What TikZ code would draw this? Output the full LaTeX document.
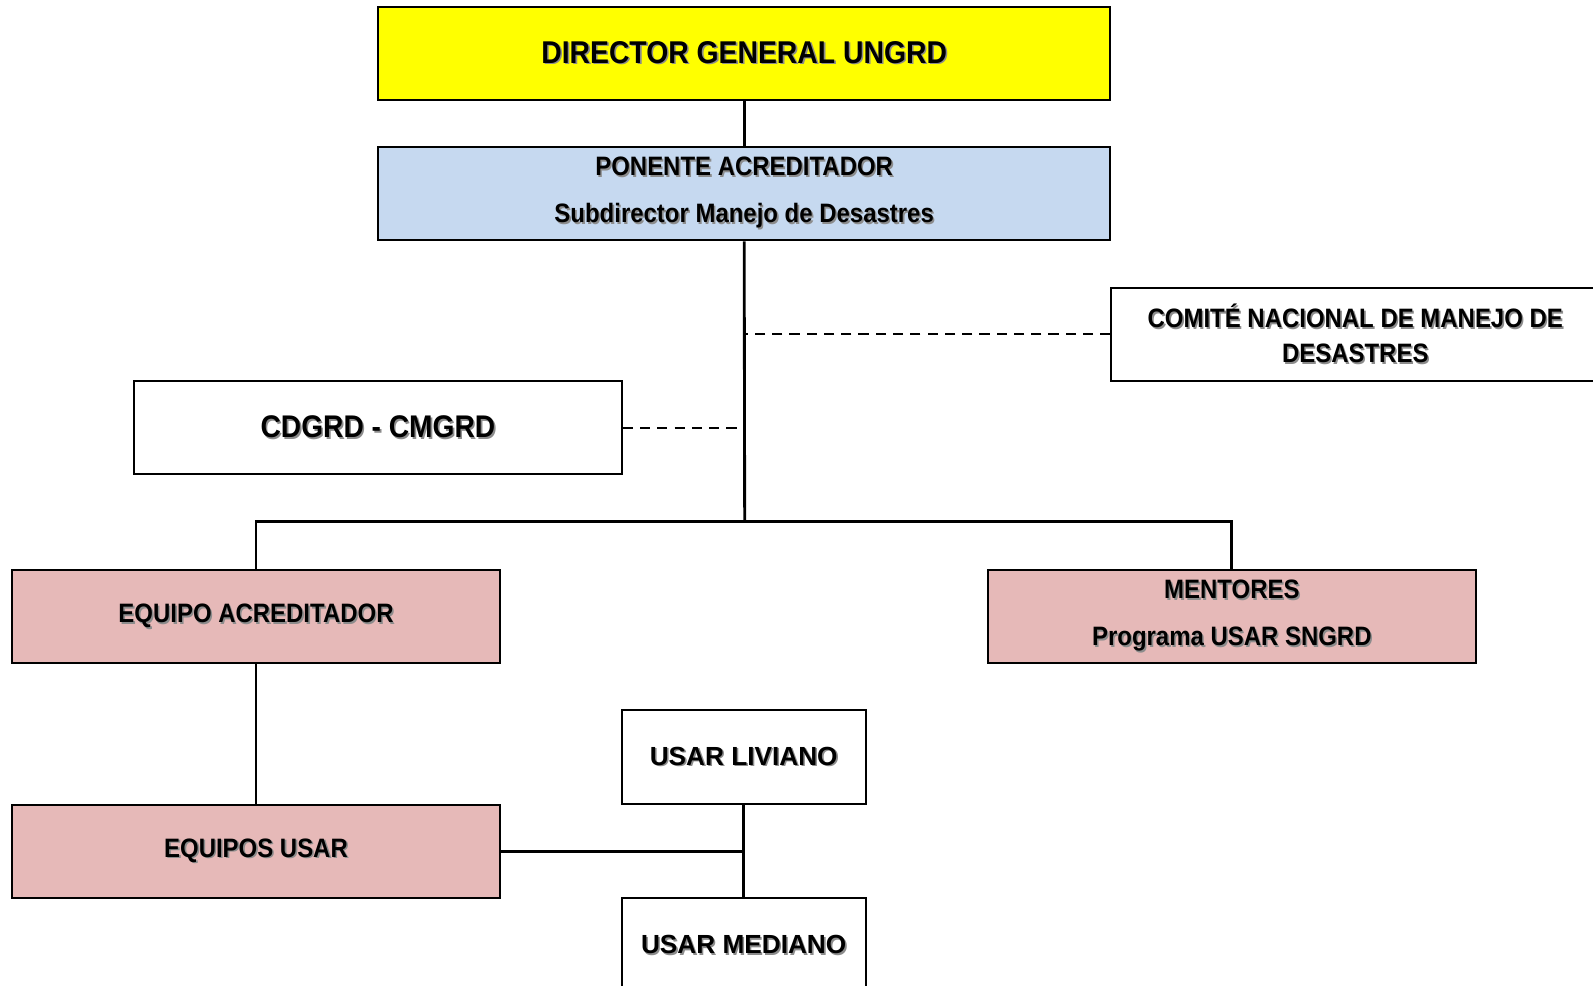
\documentclass[tikz,border=0pt]{standalone}
\usepackage{fontspec}
\setmainfont{Liberation Sans}
\newfontfamily\narrowfont[FakeStretch=0.9]{Liberation Sans}
\usetikzlibrary{positioning}
\usetikzlibrary{calc}
\definecolor{dirfill}{HTML}{FFFF00}
\definecolor{ponfill}{HTML}{C6D9F0}
\definecolor{eqfill}{HTML}{E6B9B8}
\newcommand{\shd}[1]{\makebox[0pt][l]{\hspace{0.8pt}\raisebox{-0.8pt}{\textcolor{black!45}{#1}}}#1}
\tikzset{orgbox/.style={draw, line width=1pt, minimum width=240pt, minimum height=46pt, inner sep=0pt, align=center,
  font=\narrowfont\bfseries\fontsize{13.1}{23}\selectfont}}
\tikzset{bigbox/.style={orgbox, minimum width=360.5pt, font=\narrowfont\bfseries\fontsize{15.5}{18}\selectfont}}
\tikzset{usarbox/.style={orgbox, minimum width=120pt, font=\bfseries\fontsize{12.9}{15}\selectfont}}
\tikzset{conn/.style={line width=1.4pt}}
\tikzset{dashconn/.style={line width=1pt, dash pattern=on 5pt off 3.5pt}}

\begin{document}
\begin{tikzpicture}[x=0.5pt, y=-0.5pt]
        \useasboundingbox (0,0) rectangle (1568,970);
        \clip (0,0) rectangle (1568,970);

        \node[bigbox, fill=dirfill] (dir) at (732.5, 52.5) {\shd{DIRECTOR GENERAL UNGRD}};
        \node[bigbox, fill=ponfill, font=\narrowfont\bfseries\fontsize{13.1}{23}\selectfont] (pon) at (732.5, 190.5)
          {\shd{PONENTE ACREDITADOR}\\\shd{Subdirector Manejo de Desastres}};

        \node[orgbox, overlay, anchor=west, minimum width=0pt, font=\narrowfont\bfseries\fontsize{13.1}{17}\selectfont] (comite) at (1093, 329)
          {\parbox{240pt}{\centering\shd{COMITÉ NACIONAL DE MANEJO DE}\\\shd{DESASTRES}}\hspace*{20pt}};
        \node[orgbox, font=\narrowfont\bfseries\fontsize{15.4}{18}\selectfont] (cdgrd) at (372, 421) {\shd{CDGRD - CMGRD}};

        \node[orgbox, fill=eqfill] (eqacr) at (252, 607) {\shd{EQUIPO ACREDITADOR}};
        \node[orgbox, fill=eqfill] (ment) at (1212.5, 607) {\shd{MENTORES}\\\shd{Programa USAR SNGRD}};
        \node[orgbox, fill=eqfill] (equsar) at (252, 838) {\shd{EQUIPOS USAR}};

        \node[usarbox] (liviano) at (732, 745) {\shd{USAR LIVIANO}};
        \node[usarbox, overlay, anchor=base, minimum height=0pt, text height=27.5pt, text depth=30pt] (mediano) at (732, 939)
          {\shd{USAR MEDIANO}};

        \coordinate (split) at (733, 513);

        \draw[conn] (dir.south) -- (pon.north);
        \draw[conn] (pon.south) -- (split);
        \draw[conn] (eqacr.north) |- (split) -| (ment.north);

        \draw[dashconn] (comite.west) -- (comite.west -| split);
        \draw[dashconn] (cdgrd.east) -- (cdgrd.east -| split);

        \draw[conn] (eqacr.south) -- (equsar.north);
        \draw[conn] (liviano.south) -- (mediano.north);
        \draw[conn] (equsar.east) -- (equsar.east -| liviano.south);
    \end{tikzpicture}
\end{document}
